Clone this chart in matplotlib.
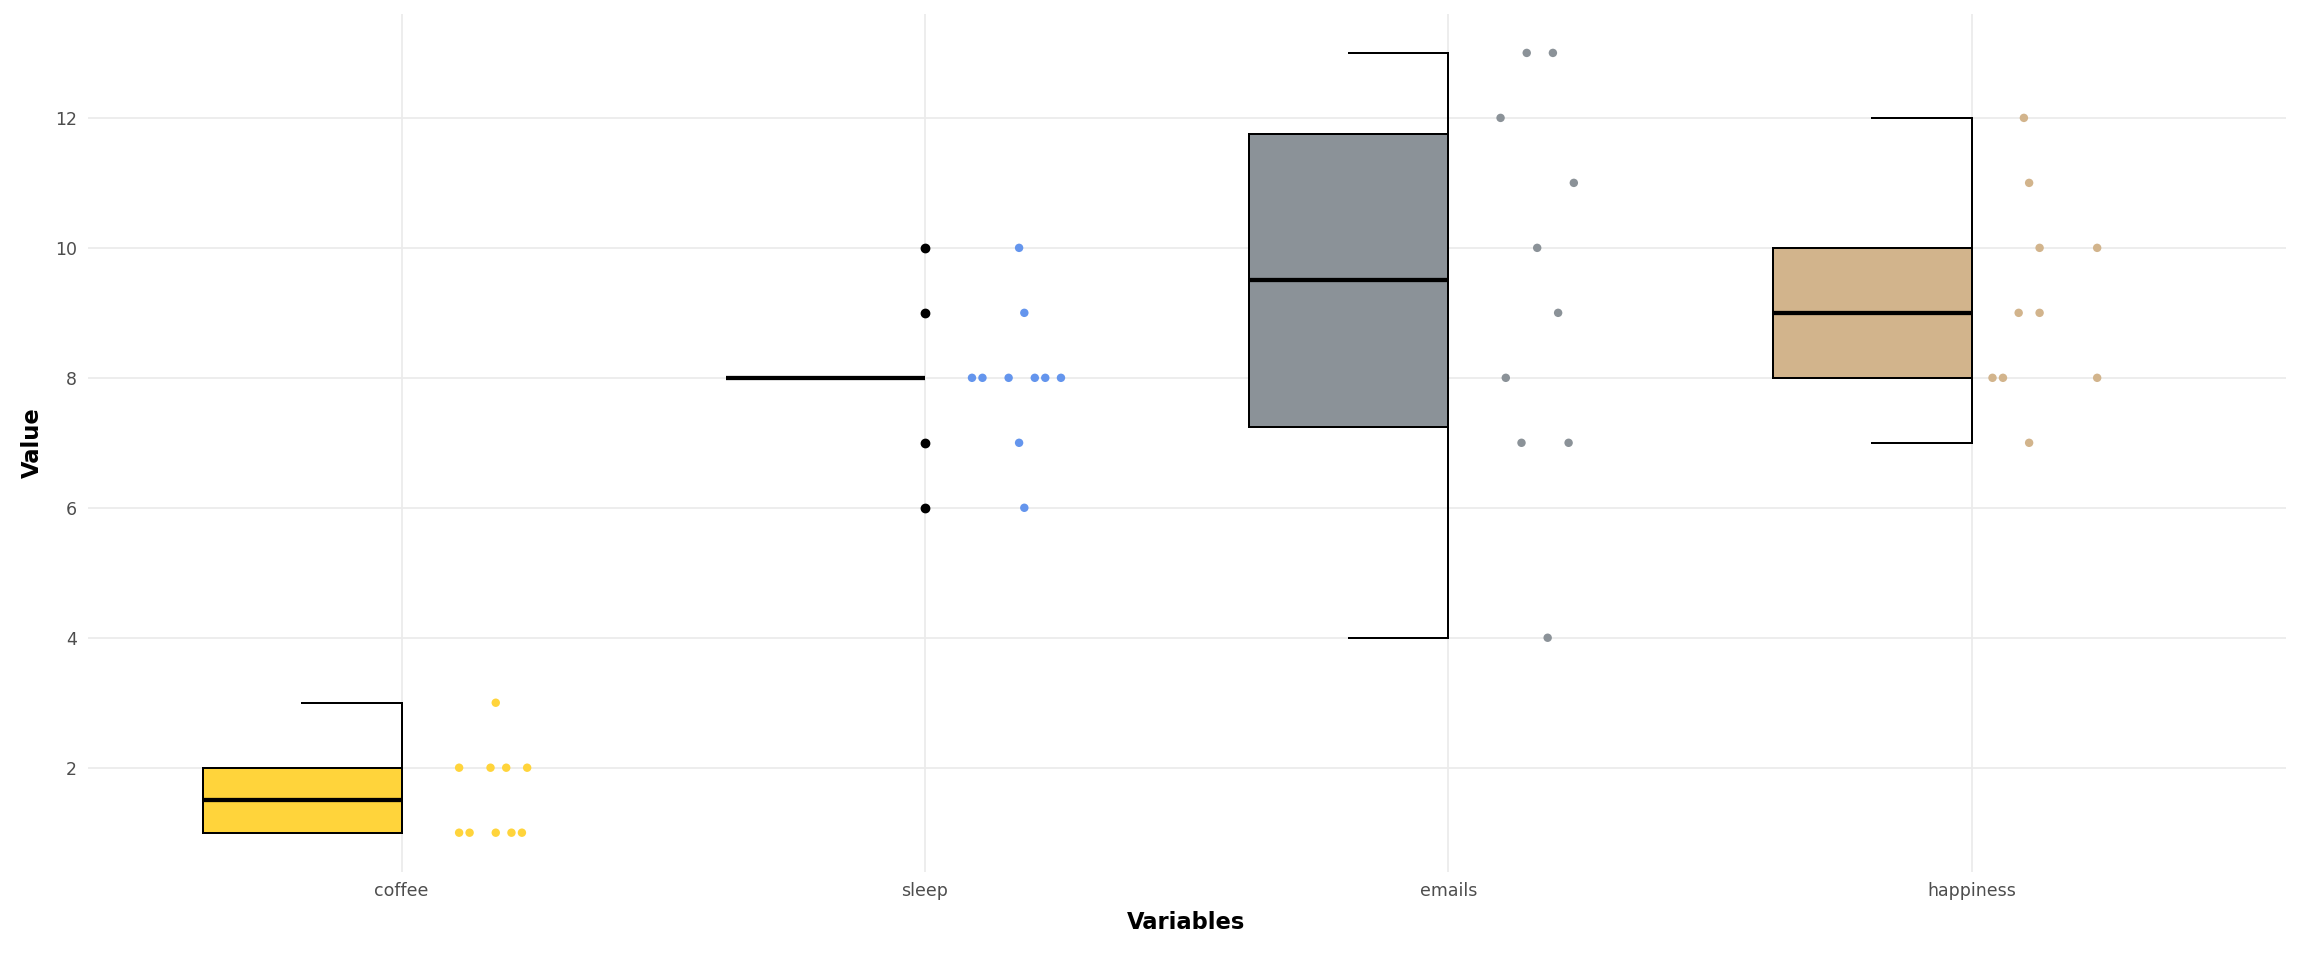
import matplotlib.pyplot as plt
import numpy as np
from matplotlib.patches import Rectangle

categories = ["coffee", "sleep", "emails", "happiness"]
colors = ["#FFD43B", "#6495ED", "#8B9298", "#D2B48C"]
values = {
    "coffee": [3, 2, 2, 2, 2, 1, 1, 1, 1, 1],
    "sleep": [10, 9, 8, 8, 8, 8, 8, 8, 7, 6],
    "emails": [13, 13, 12, 11, 10, 9, 8, 7, 7, 4],
    "happiness": [12, 11, 10, 10, 9, 9, 8, 8, 8, 7],
}
# horizontal jitter of the raw points (category units)
jitter = {
    "coffee": [0.18, 0.11, 0.17, 0.20, 0.24, 0.11, 0.13, 0.18, 0.21, 0.23],
    "sleep": [0.18, 0.19, 0.09, 0.11, 0.16, 0.21, 0.23, 0.26, 0.18, 0.19],
    "emails": [0.15, 0.20, 0.10, 0.24, 0.17, 0.21, 0.11, 0.14, 0.23, 0.19],
    "happiness": [0.10, 0.11, 0.13, 0.24, 0.09, 0.13, 0.04, 0.06, 0.24, 0.11],
}

fig = plt.figure(figsize=(24, 10), dpi=96)
ax = fig.add_axes([0.038, 0.092, 0.954, 0.8935])

bw = 0.38
for i, cat in enumerate(categories):
    v = np.array(values[cat], dtype=float)
    q1, med, q3 = np.percentile(v, [25, 50, 75])
    iqr = q3 - q1
    inside = v[(v >= q1 - 1.5 * iqr) & (v <= q3 + 1.5 * iqr)]
    lo, hi = inside.min(), inside.max()
    out = v[(v < q1 - 1.5 * iqr) | (v > q3 + 1.5 * iqr)]
    ax.add_patch(Rectangle((i - bw, q1), bw, q3 - q1, facecolor=colors[i],
                           edgecolor="black", lw=1.5, zorder=3))
    ax.plot([i - bw, i], [med, med], color="black", lw=3.2, zorder=4,
            solid_capstyle="butt")
    ax.plot([i, i], [q3, hi], color="black", lw=1.5, zorder=3)
    ax.plot([i, i], [lo, q1], color="black", lw=1.5, zorder=3)
    if hi > q3:
        ax.plot([i - bw / 2, i], [hi, hi], color="black", lw=1.5, zorder=3)
    if lo < q1:
        ax.plot([i - bw / 2, i], [lo, lo], color="black", lw=1.5, zorder=3)
    if len(out):
        ax.scatter(np.full(len(out), i), out, s=40, color="black", zorder=5)
    ax.scatter(i + np.array(jitter[cat]), v, s=40, color=colors[i],
               edgecolor="none", zorder=5)

ax.set_xlim(-0.6, 3.6)
ax.set_ylim(0.4, 13.6)
ax.set_xticks(range(len(categories)))
ax.set_xticklabels(categories)
ax.set_yticks([2, 4, 6, 8, 10, 12])
ax.grid(True, color="#EBEBEB", lw=1.3)
ax.set_axisbelow(True)
for s in ax.spines.values():
    s.set_visible(False)
ax.tick_params(length=0, labelsize=13, colors="#4D4D4D", pad=8)
ax.set_xlabel("Variables", fontsize=17, fontweight="bold", labelpad=8)
ax.set_ylabel("Value", fontsize=17, fontweight="bold", labelpad=8)

fig.savefig("out.png", dpi=96)
